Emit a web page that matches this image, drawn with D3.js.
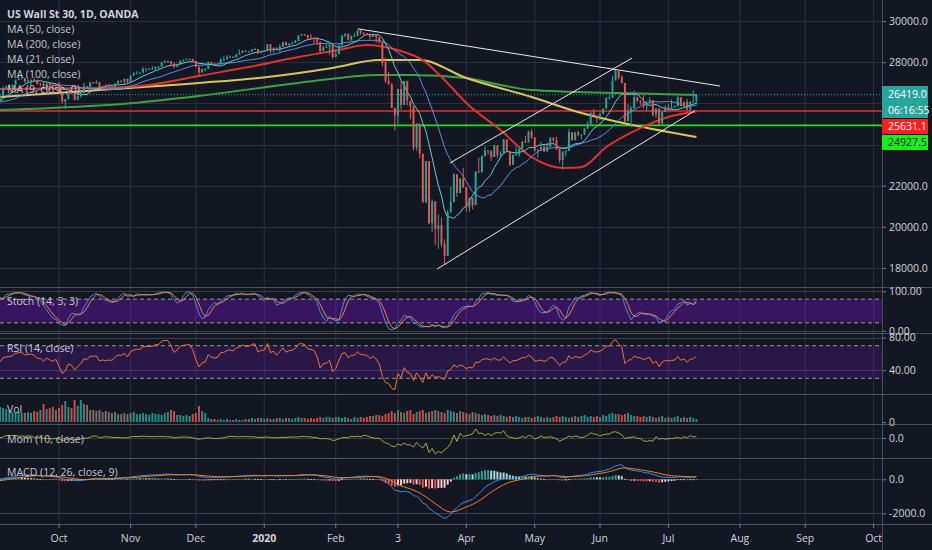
<!DOCTYPE html>
<html>
<head>
<meta charset="utf-8">
<script src="https://cdn.jsdelivr.net/npm/d3@7"></script>
<style>
html, body { margin: 0; padding: 0; background: #131722; overflow: hidden; }
svg { display: block; font-family: "Open Sans", Roboto, sans-serif; }
</style>
</head>
<body>
<div id="chart"></div>
<script>
// set the dimensions of the page and the price pane
var W = 932, H = 550, plotW = 882;

// one row per weekday, first row is 2019-08-01 (Aug rows are warm-up, off screen)
var startDate = new Date(2019, 7, 1);
var firstVisible = 24;   // 2019-09-04 sits on the left edge

// daily candles [open, high, low, close]
var candles = [
  [26860,27030,26490,26580],[26580,26600,26250,26490],
  [26490,26490,25620,25720],[25720,26080,25680,26030],[26030,26040,25500,26010],[26010,26410,26000,26380],[26380,26380,26080,26290],
  [26290,26290,25850,25900],[25900,26480,25840,26280],[26280,26280,25450,25480],[25480,25700,25340,25580],[25580,25950,25570,25890],
  [25890,26230,25890,26140],[26140,26140,25940,25960],[25960,26250,25960,26200],[26200,26330,26070,26250],[26250,26290,25550,25630],
  [25630,25920,25570,25900],[25900,26050,25740,25780],[25780,26060,25650,26040],[26040,26420,26030,26360],[26360,26480,26300,26400],
  // Sep 2019
  [26400,26420,26280,26300],[26300,26300,25980,26120],[26120,26400,26120,26360],[26360,26830,26360,26730],[26730,26860,26720,26800],
  [26800,26940,26760,26840],[26840,26910,26700,26910],[26910,27160,26900,27140],[27140,27310,27130,27180],[27180,27260,27180,27220],
  [27220,27220,27000,27080],[27080,27130,26980,27110],[27110,27150,26870,27150],[27150,27270,27090,27090],[27090,27170,26910,26940],
  [26940,26990,26830,26950],[26950,27080,26730,26810],[26810,26990,26720,26970],[26970,27010,26830,26890],[26890,27010,26750,26820],
  [26820,26960,26820,26920],[26920,27050,26560,26570],[26570,26570,25980,26080],[26080,26210,25740,26200],[26200,26590,26200,26570],
  // Oct 2019
  [26570,26650,26430,26480],[26480,26480,26150,26160],[26160,26400,26160,26350],[26350,26620,26280,26500],[26500,27000,26500,26820],
  [26820,26840,26720,26790],[26790,27050,26780,27020],[27020,27040,26950,27000],[27000,27120,26960,27030],[27030,27030,26740,26770],
  [26770,26860,26770,26830],[26830,26920,26770,26790],[26790,26840,26700,26830],[26830,26860,26710,26810],[26810,26960,26750,26960],
  [26960,27120,26960,27090],[27090,27140,27020,27070],[27070,27200,26960,27190],[27190,27190,26930,27050],[27050,27360,27050,27350],
  // Nov 2019
  [27350,27520,27350,27460],[27460,27570,27450,27490],[27490,27510,27410,27490],[27490,27770,27490,27670],[27670,27690,27530,27680],
  [27680,27700,27600,27690],[27690,27800,27650,27690],[27690,27800,27600,27780],[27780,27800,27640,27780],[27780,28010,27780,28000],
  [28000,28090,27970,28040],[28040,28090,27980,28040],[28040,28040,27790,27930],[27930,27980,27700,27770],[27770,27900,27770,27880],
  [27880,28090,27880,28070],[28070,28120,28020,28120],[28120,28180,28100,28160],[28160,28180,28130,28160],[28160,28160,28030,28050],
  // Dec 2019
  [28050,28080,27760,27780],[27780,27780,27320,27500],[27500,27700,27500,27650],[27650,27690,27560,27680],[27680,28020,27680,28010],
  [28010,28010,27900,27910],[27910,27950,27820,27880],[27880,27940,27830,27910],[27910,28220,27900,28130],[28130,28290,28050,28140],
  [28140,28340,28140,28240],[28240,28320,28220,28270],[28270,28300,28200,28240],[28240,28380,28220,28380],[28380,28610,28380,28450],
  [28450,28580,28450,28550],[28550,28580,28500,28520],[28520,28540,28500,28520],[28520,28630,28510,28620],[28620,28700,28600,28640],
  [28640,28640,28380,28460],[28460,28550,28420,28540],[28540,28560,28520,28540],[28540,28870,28540,28870],[28870,28870,28420,28630],
  // Jan 2020
  [28630,28710,28420,28700],[28700,28700,28560,28580],[28580,28870,28500,28750],[28750,29000,28750,28960],[28960,29000,28800,28820],
  [28820,28910,28800,28910],[28910,29000,28870,28940],[28940,29070,28920,29030],[29030,29300,29030,29300],[29300,29370,29280,29350],
  [29350,29360,29290,29320],[29320,29320,29080,29200],[29200,29370,29180,29190],[29190,29200,28930,29160],[29160,29200,28830,28990],
  [28990,28990,28440,28540],[28540,28810,28540,28720],[28720,28900,28700,28730],[28730,28880,28360,28860],[28860,28880,28170,28260],
  // Feb 2020
  [28260,28600,28260,28400],[28400,28860,28400,28810],[28810,29300,28810,29290],[29290,29390,29220,29380],[29380,29380,29060,29100],
  [29100,29290,29030,29280],[29280,29420,29250,29280],[29280,29570,29280,29550],[29550,29550,29330,29420],[29420,29460,29310,29400],
  [29400,29420,29350,29380],[29380,29380,29100,29230],[29230,29410,29230,29350],[29350,29360,28940,29220],[29220,29220,28900,28990],
  [28990,28990,27800,27960],[27960,28220,26980,27080],[27080,27530,26890,26960],[26960,26960,25760,25770],[25770,25800,24680,25410],
  // Mar 2020
  [25410,26700,25000,26700],[26700,27100,25700,25920],[25920,27100,25920,27090],[27090,27090,25900,26120],[26120,26120,25230,25860],
  [25860,25860,23710,23850],[23850,25020,23690,25020],[25020,25020,23330,23550],[23550,23550,21150,21200],[21200,23190,21150,23190],
  [23190,23190,20120,20190],[20190,21340,19750,21240],[21240,21240,19120,19900],[19900,20600,18920,20090],[20090,20450,19010,19170],
  [19170,19400,18210,18590],[18590,20810,18590,20700],[20700,21950,20700,21200],[21200,22600,21200,22550],[22550,22550,21450,21640],
  [21640,22390,21640,22330],[22330,22860,21900,21920],[21920,21920,20740,20940],[20940,21430,20740,21410],[21410,21410,20860,21050],
  // Apr 2020
  [21050,22700,21050,22680],[22680,23370,22640,22650],[22650,23470,22650,23430],[23430,23910,23440,23720],[23720,23730,23500,23700],
  [23700,23700,23200,23390],[23390,23990,23390,23950],[23950,23950,23360,23500],[23500,23670,23320,23540],[23540,24260,23540,24240],
  [24240,24240,23610,23650],[23650,23650,22940,23020],[23020,23540,23020,23480],[23480,23900,23450,23520],[23520,23800,23400,23780],
  [23780,24180,23780,24130],[24130,24410,24080,24100],[24100,24670,24100,24630],[24630,24760,24280,24350],[24350,24350,23640,23720],
  // May 2020
  [23720,23780,23360,23750],[23750,24130,23750,23880],[23880,24010,23630,23660],[23660,24080,23660,23880],[23880,24360,23880,24330],
  [24330,24330,24110,24220],[24220,24380,23760,23760],[23760,23890,23110,23250],[23250,23690,22790,23630],[23630,23700,23420,23690],
  [23690,24750,23690,24600],[24600,24600,24200,24210],[24210,24620,24210,24580],[24580,24670,24400,24470],[24470,24480,24250,24470],
  [24470,24790,24450,24770],[24770,25120,24760,25000],[25000,25550,24900,25550],[25550,25730,25350,25400],[25400,25420,25040,25380],
  // Jun 2020
  [25380,25550,25180,25480],[25480,25750,25480,25740],[25740,26290,25740,26270],[26270,26400,26190,26280],[26280,27340,26280,27110],
  [27110,27640,27110,27570],[27570,27580,27160,27270],[27270,27350,26960,26990],[26990,26990,25080,25130],[25130,25960,25130,25610],
  [25610,25860,24840,25760],[25760,26610,25760,26290],[26290,26330,26060,26120],[26120,26160,25920,26080],[26080,26400,25760,25870],
  [25870,26140,25630,26020],[26020,26290,25960,26160],[26160,26160,25360,25450],[25450,25770,25290,25750],[25750,25750,24960,25020],
  [25020,25600,25010,25600],[25600,25910,25560,25810],[25810,25970,25660,25730],[25730,26200,25730,25830],[25830,25900,25800,25850],
  // Jul 2020
  [25850,26390,25850,26290],[26290,26290,25880,25890],[25890,26080,25860,26070],[26070,26220,25630,25710],[25710,26100,25630,26080],
  [26080,26630,26060,26090],[26090,26430,25940,26419]
];

// tick volume, starting at the first visible bar
var volumes = [
  15,14,13,12,10, 9,10,9,9,10, 9,11,10,12,18, 13,14,15,12,14, 17,21,15,14,22,
  16,22,18,17,12, 12,11,12,10,11, 10,9,10,8,8, 9,8,9,10,8, 8,9,8,7,9,
  8,8,7,9,10, 12,11,7,7,6, 7,6,8,9,16, 11,9,4,3,3, 2,3,2,3,2,
  2,3,2,2,3, 3,4,3,4,4, 3,4,3,3,4, 4,3,4,4,3, 4,5,4,4,3,
  4,3,4,5,4, 5,5,4,5,5, 4,5,4,3,5, 4,5,4,5,6, 6,7,7,6,8,
  9,11,9,12,10, 9,11,12,8,10, 11,12,9,10,11, 12,11,10,9,12, 11,10,9,11,10,
  9,8,10,9,8, 7,8,7,6,7, 6,7,6,5,6, 5,6,5,4,5, 5,4,5,6,5,
  4,5,4,5,6, 5,6,5,4,5, 6,5,6,7,5, 6,5,6,5,7, 6,8,9,8,8,
  7,8,9,7,6, 6,5,6,5,6, 5,4,5,6,4, 5,4,5,6,4, 5,4,5,4,3
];

// slow moving averages [visible bar, price]
var ma50Pts  = [[0,26700],[32,26740],[48,26890],[64,27330],[80,27760],[96,28250],[109,28590],[118,28830],[122,28780],[129,28540],[136,28100],[143,27130],[150,26020],[161,24700],[171,23390],[181,22860],[187,22900],[195,23880],[206,24800],[215,25340],[224,25600]];
var ma100Pts = [[0,26310],[32,26650],[64,26990],[86,27280],[107,27720],[122,28100],[135,28100],[150,27230],[171,26310],[187,25530],[199,25090],[224,24360]];
var ma200Pts = [[0,25680],[43,26020],[64,26360],[96,26990],[122,27380],[132,27380],[150,27230],[161,26890],[171,26650],[199,26500],[224,26400]];

// hand drawn lines [visible bar, price]
var trendLines = [
  [[115.1,29620],[231.6,26840]],
  [[144.7,23100],[203.3,28200]],
  [[140.6,17950],[223.5,25640]]
];

var levels = [
  {price: 25631.1, color: "#f22a2a", box: "#ff1f1f", text: "#ffffff", boxY: 126.5},
  {price: 24927.5, color: "#22dd22", box: "#19f019", text: "#131722", boxY: 142.5}
];
var lastPrice = 26419.0, countdown = "06:16:55";

var monthTicks = [
  ["2019-10-01","Oct"],["2019-11-01","Nov"],["2019-12-02","Dec"],["2020-01-01","2020"],
  ["2020-02-03","Feb"],["2020-03-02","3"],["2020-04-01","Apr"],["2020-05-01","May"],
  ["2020-06-01","Jun"],["2020-07-01","Jul"],["2020-08-03","Aug"],["2020-09-01","Sep"],["2020-10-01","Oct"]
];

var legendLabels = ["MA (50, close)","MA (200, close)","MA (21, close)","MA (100, close)","MA (9, close, 0)"];
var priceTicks = [18000,20000,22000,24000,26000,28000,30000];
var priceLabels = [18000,20000,22000,28000,30000];   // 24000 / 26000 sit under the label boxes

// colours
var C = {
  bg: "#131722", grid: "#2c303c", sep: "#4a4e5a", text: "#d1d4dc", label: "#c3c6cd",
  up: "#26a69a", down: "#ef5350",
  ma9: "#63cfd6", ma21: "#5a8fe8", ma50: "#e0322f", ma100: "#d8c55e", ma200: "#3f9f45",
  stochK: "#3f8cf0", stochD: "#f0803c", rsi: "#f07432", mom: "#a3aa3a",
  macd: "#2f8ff0", signal: "#f57c1f", band: "#9915ff"
};

// panes
var panes = {
  main:  {top: 0,   bottom: 287},
  stoch: {top: 287, bottom: 333},
  rsi:   {top: 333, bottom: 394},
  vol:   {top: 394, bottom: 424},
  mom:   {top: 424, bottom: 458},
  macd:  {top: 458, bottom: 524}
};

// ---------- helpers ----------
function visIndex(dateStr) {
  var p = dateStr.split("-").map(Number);
  var target = new Date(p[0], p[1] - 1, p[2]);
  var d = new Date(startDate), n = 0;
  while (d < target) {
    if (d.getDay() !== 0 && d.getDay() !== 6) n++;
    d.setDate(d.getDate() + 1);
  }
  return n - firstVisible;
}

var closes = candles.map(function(d) { return d[3]; });
var highs = candles.map(function(d) { return d[1]; });
var lows = candles.map(function(d) { return d[2]; });

function sma(arr, n) {
  return arr.map(function(v, i) {
    if (i < n - 1) return null;
    var s = arr.slice(i - n + 1, i + 1);
    if (s.some(function(x) { return x == null; })) return null;
    return d3.mean(s);
  });
}
function ema(arr, n) {
  var k = 2 / (n + 1), prev = null;
  return arr.map(function(v) {
    if (v == null) return null;
    prev = prev == null ? v : v * k + prev * (1 - k);
    return prev;
  });
}

// indicators from the candles
var ma9 = sma(closes, 9), ma21 = sma(closes, 21);

var rawK = closes.map(function(c, i) {
  if (i < 13) return null;
  var hh = d3.max(highs.slice(i - 13, i + 1)), ll = d3.min(lows.slice(i - 13, i + 1));
  return hh === ll ? 50 : 100 * (c - ll) / (hh - ll);
});
var stochK = sma(rawK, 3), stochD = sma(stochK, 3);

var rsi = (function() {
  var out = [null], au = null, ad = null, gains = [], losses = [];
  for (var i = 1; i < closes.length; i++) {
    var ch = closes[i] - closes[i - 1];
    var g = Math.max(ch, 0), l = Math.max(-ch, 0);
    if (i <= 14) {
      gains.push(g); losses.push(l);
      if (i === 14) { au = d3.mean(gains); ad = d3.mean(losses); out.push(100 - 100 / (1 + au / ad)); }
      else out.push(null);
    } else {
      au = (au * 13 + g) / 14; ad = (ad * 13 + l) / 14;
      out.push(ad === 0 ? 100 : 100 - 100 / (1 + au / ad));
    }
  }
  return out;
})();

var mom = closes.map(function(c, i) { return i < 10 ? null : c - closes[i - 10]; });

var ema12 = ema(closes, 12), ema26 = ema(closes, 26);
var macd = closes.map(function(c, i) { return ema12[i] - ema26[i]; });
var signal = ema(macd, 9);
var hist = macd.map(function(m, i) { return m - signal[i]; });

// ---------- scales ----------
var x = d3.scaleLinear().domain([0, 283.7]).range([0, plotW]);
var bw = Math.max(1.4, (x(1) - x(0)) * 0.62);

var yMain  = d3.scaleLinear().domain([18000, 30000]).range([268, 21]);
var yStoch = d3.scaleLinear().domain([0, 100]).range([330.7, 291.3]);
var yRsi   = d3.scaleLinear().domain([30, 70]).range([378.3, 345.7]);
var yVol   = d3.scaleLinear().domain([0, 22]).range([422, 400]);
var yMom   = d3.scaleLinear().domain([-9000, 6300]).range([458, 424]);
var yMacd  = d3.scaleLinear().domain([-2000, 0]).range([513.3, 479.3]);

// ---------- svg ----------
var svg = d3.select("#chart").append("svg")
    .attr("width", W).attr("height", H);
svg.append("rect").attr("width", W).attr("height", H).attr("fill", C.bg);

var defs = svg.append("defs");
Object.keys(panes).forEach(function(k) {
  defs.append("clipPath").attr("id", "clip-" + k)
    .append("rect").attr("x", 0).attr("y", panes[k].top)
    .attr("width", plotW).attr("height", panes[k].bottom - panes[k].top);
});

// vertical grid at month starts
var tickIdx = monthTicks.map(function(t) { return {i: visIndex(t[0]), label: t[1]}; });
svg.append("g").selectAll("line").data(tickIdx).enter().append("line")
    .attr("x1", function(d) { return x(d.i); }).attr("x2", function(d) { return x(d.i); })
    .attr("y1", 0).attr("y2", panes.macd.bottom)
    .attr("stroke", C.grid).attr("stroke-width", 1);

// horizontal grid
function hgrid(scale, values, pane) {
  svg.append("g").selectAll("line").data(values).enter().append("line")
    .attr("x1", 0).attr("x2", plotW)
    .attr("y1", function(d) { return Math.round(scale(d)) + 0.5; })
    .attr("y2", function(d) { return Math.round(scale(d)) + 0.5; })
    .attr("stroke", pane === "main" ? C.grid : "#3a3e4a").attr("stroke-width", 1);
}
hgrid(yMain, priceTicks, "main");
hgrid(yStoch, [0, 100]);
hgrid(yRsi, [40, 80]);
hgrid(yMom, [0]);
hgrid(yMacd, [-2000, 0]);

// pane separators
svg.append("g").selectAll("line")
    .data([panes.stoch.top, panes.rsi.top, panes.vol.top, panes.mom.top, panes.macd.top, panes.macd.bottom])
  .enter().append("line")
    .attr("x1", 0).attr("x2", W).attr("y1", function(d) { return d + 0.5; }).attr("y2", function(d) { return d + 0.5; })
    .attr("stroke", C.sep).attr("stroke-width", 1);

// ---------- main pane ----------
var gMain = svg.append("g").attr("clip-path", "url(#clip-main)");

var visRows = d3.range(firstVisible - 1, candles.length);

// horizontal levels
levels.forEach(function(l) {
  gMain.append("line").attr("x1", 0).attr("x2", plotW)
    .attr("y1", yMain(l.price)).attr("y2", yMain(l.price))
    .attr("stroke", l.color).attr("stroke-width", 1.6);
});
gMain.append("line").attr("x1", 0).attr("x2", plotW)
    .attr("y1", yMain(lastPrice)).attr("y2", yMain(lastPrice))
    .attr("stroke", C.up).attr("stroke-width", 1).attr("stroke-dasharray", "1,2");

// slow MAs
var curveLine = d3.line()
    .x(function(d) { return x(d[0]); })
    .y(function(d) { return yMain(d[1]); })
    .curve(d3.curveMonotoneX);
[[ma200Pts, C.ma200], [ma100Pts, C.ma100], [ma50Pts, C.ma50]].forEach(function(m) {
  gMain.append("path").datum(m[0]).attr("d", curveLine)
    .attr("fill", "none").attr("stroke", m[1]).attr("stroke-width", 2);
});

// fast MAs from the closes
function maPath(series, color) {
  var line = d3.line()
      .defined(function(i) { return series[i] != null; })
      .x(function(i) { return x(i - firstVisible); })
      .y(function(i) { return yMain(series[i]); });
  gMain.append("path").datum(visRows).attr("d", line)
    .attr("fill", "none").attr("stroke", color).attr("stroke-width", 1);
}
maPath(ma21, C.ma21);
maPath(ma9, C.ma9);

// candles
var cg = gMain.append("g").selectAll("g").data(visRows.filter(function(i) { return i >= firstVisible; }))
  .enter().append("g");
cg.append("line")
    .attr("x1", function(i) { return x(i - firstVisible); })
    .attr("x2", function(i) { return x(i - firstVisible); })
    .attr("y1", function(i) { return yMain(candles[i][1]); })
    .attr("y2", function(i) { return yMain(candles[i][2]); })
    .attr("stroke", function(i) { return candles[i][3] >= candles[i][0] ? C.up : C.down; })
    .attr("stroke-width", 1);
cg.append("rect")
    .attr("x", function(i) { return x(i - firstVisible) - bw / 2; })
    .attr("width", bw)
    .attr("y", function(i) { return yMain(Math.max(candles[i][0], candles[i][3])); })
    .attr("height", function(i) { return Math.max(1, Math.abs(yMain(candles[i][0]) - yMain(candles[i][3]))); })
    .attr("fill", function(i) { return candles[i][3] >= candles[i][0] ? C.up : C.down; });

// trend lines
gMain.append("g").selectAll("line").data(trendLines).enter().append("line")
    .attr("x1", function(d) { return x(d[0][0]); }).attr("y1", function(d) { return yMain(d[0][1]); })
    .attr("x2", function(d) { return x(d[1][0]); }).attr("y2", function(d) { return yMain(d[1][1]); })
    .attr("stroke", "#e8e9ec").attr("stroke-width", 1);

// ---------- stochastic ----------
var gSt = svg.append("g").attr("clip-path", "url(#clip-stoch)");
gSt.append("rect").attr("x", 0).attr("width", plotW)
    .attr("y", yStoch(80)).attr("height", yStoch(20) - yStoch(80))
    .attr("fill", C.band).attr("opacity", 0.28);
[80, 20].forEach(function(v) {
  gSt.append("line").attr("x1", 0).attr("x2", plotW).attr("y1", yStoch(v)).attr("y2", yStoch(v))
    .attr("stroke", "#9598a1").attr("stroke-dasharray", "4,3").attr("stroke-width", 1);
});
function oscPath(g, series, scale, color) {
  var line = d3.line()
      .defined(function(i) { return series[i] != null; })
      .x(function(i) { return x(i - firstVisible); })
      .y(function(i) { return scale(series[i]); });
  g.append("path").datum(visRows).attr("d", line)
    .attr("fill", "none").attr("stroke", color).attr("stroke-width", 1);
}
oscPath(gSt, stochK, yStoch, C.stochK);
oscPath(gSt, stochD, yStoch, C.stochD);

// ---------- RSI ----------
var gR = svg.append("g").attr("clip-path", "url(#clip-rsi)");
gR.append("rect").attr("x", 0).attr("width", plotW)
    .attr("y", yRsi(70)).attr("height", yRsi(30) - yRsi(70))
    .attr("fill", C.band).attr("opacity", 0.17);
[70, 30].forEach(function(v) {
  gR.append("line").attr("x1", 0).attr("x2", plotW).attr("y1", yRsi(v)).attr("y2", yRsi(v))
    .attr("stroke", "#9598a1").attr("stroke-dasharray", "4,3").attr("stroke-width", 1);
});
oscPath(gR, rsi, yRsi, C.rsi);

// ---------- volume ----------
var gV = svg.append("g").attr("clip-path", "url(#clip-vol)");
gV.selectAll("rect").data(volumes).enter().append("rect")
    .attr("x", function(v, b) { return x(b) - bw / 2; })
    .attr("width", bw)
    .attr("y", function(v) { return yVol(v); })
    .attr("height", function(v) { return yVol(0) - yVol(v); })
    .attr("fill", function(v, b) {
      var c = candles[b + firstVisible];
      return c[3] >= c[0] ? C.up : C.down;
    })
    .attr("opacity", 0.85);

// ---------- momentum ----------
var gM = svg.append("g").attr("clip-path", "url(#clip-mom)");
oscPath(gM, mom, yMom, C.mom);

// ---------- MACD ----------
var gD = svg.append("g").attr("clip-path", "url(#clip-macd)");
gD.selectAll("rect").data(visRows.filter(function(i) { return i >= firstVisible; })).enter().append("rect")
    .attr("x", function(i) { return x(i - firstVisible) - bw / 2; })
    .attr("width", bw)
    .attr("y", function(i) { return Math.min(yMacd(hist[i]), yMacd(0)); })
    .attr("height", function(i) { return Math.max(0.8, Math.abs(yMacd(hist[i]) - yMacd(0))); })
    .attr("fill", function(i) {
      var h = hist[i], p = hist[i - 1];
      if (h >= 0) return h > p ? "#26a69a" : "#b2dfdb";
      return h > p ? "#ffcdd2" : "#ef5350";
    });
oscPath(gD, macd, yMacd, C.macd);
oscPath(gD, signal, yMacd, C.signal);

// ---------- right axes ----------
function rightAxis(scale, values, fmt) {
  svg.append("g").attr("transform", "translate(" + plotW + ",0)")
    .call(d3.axisRight(scale).tickValues(values).tickFormat(fmt).tickSize(4).tickPadding(3))
    .call(function(g) { g.select(".domain").remove(); })
    .call(function(g) {
      g.selectAll(".tick line").attr("stroke", "#787b86");
      g.selectAll(".tick text").attr("fill", C.text).style("font-size", "10.5px")
        .style("font-family", "'Open Sans', Roboto, sans-serif");
    });
}
var f1 = function(d) { return d3.format(".1f")(d).replace("\u2212", "-"); };
rightAxis(yMain, priceLabels, f1);
rightAxis(yStoch, [0, 100], d3.format(".2f"));
rightAxis(yRsi, [40, 80], d3.format(".2f"));
rightAxis(yVol, [0], d3.format("d"));
rightAxis(yMom, [0], f1);
rightAxis(yMacd, [-2000, 0], f1);

// price scale border
svg.append("line").attr("x1", plotW + 0.5).attr("x2", plotW + 0.5).attr("y1", 0).attr("y2", H)
    .attr("stroke", C.sep).attr("stroke-width", 1);

// label boxes on the price scale
function priceBox(yc, h, fill, color, txt) {
  svg.append("rect").attr("x", plotW).attr("y", yc - h / 2).attr("width", W - plotW - 4).attr("height", h)
    .attr("fill", fill);
  svg.append("text").attr("x", plotW + 6).attr("y", yc + 3.8).text(txt)
    .attr("fill", color).style("font-size", "10.5px");
}
priceBox(94, 16, C.up, "#ffffff", f1(lastPrice));
priceBox(110, 16, C.up, "#ffffff", countdown);
levels.forEach(function(l) { priceBox(l.boxY, 15, l.box, l.text, f1(l.price)); });

// ---------- time axis ----------
var tg = svg.append("g").selectAll("g").data(tickIdx).enter().append("g");
tg.append("line")
    .attr("x1", function(d) { return x(d.i); }).attr("x2", function(d) { return x(d.i); })
    .attr("y1", panes.macd.bottom).attr("y2", panes.macd.bottom + 4)
    .attr("stroke", "#787b86");
tg.append("text")
    .attr("x", function(d) { return x(d.i); }).attr("y", 542)
    .attr("text-anchor", "middle")
    .attr("fill", C.text)
    .style("font-size", "10.5px")
    .style("font-weight", function(d) { return d.label === "2020" ? 700 : 400; })
    .text(function(d) { return d.label; });

// ---------- legends ----------
svg.append("text").attr("x", 7).attr("y", 18).text("US Wall St 30, 1D, OANDA")
    .attr("fill", C.text).style("font-size", "10.5px").style("font-weight", 700);
svg.append("g").selectAll("text").data(legendLabels).enter().append("text")
    .attr("x", 7).attr("y", function(d, i) { return 33 + i * 15; })
    .attr("fill", C.label).style("font-size", "10.5px")
    .text(function(d) { return d; });

var paneLabels = [
  ["Stoch (14, 3, 3)", 305], ["RSI (14, close)", 352], ["Vol", 413],
  ["Mom (10, close)", 443], ["MACD (12, 26, close, 9)", 476]
];
svg.append("g").selectAll("text").data(paneLabels).enter().append("text")
    .attr("x", 7).attr("y", function(d) { return d[1]; })
    .attr("fill", C.label).style("font-size", "10.5px")
    .text(function(d) { return d[0]; });
</script>
</body>
</html>
